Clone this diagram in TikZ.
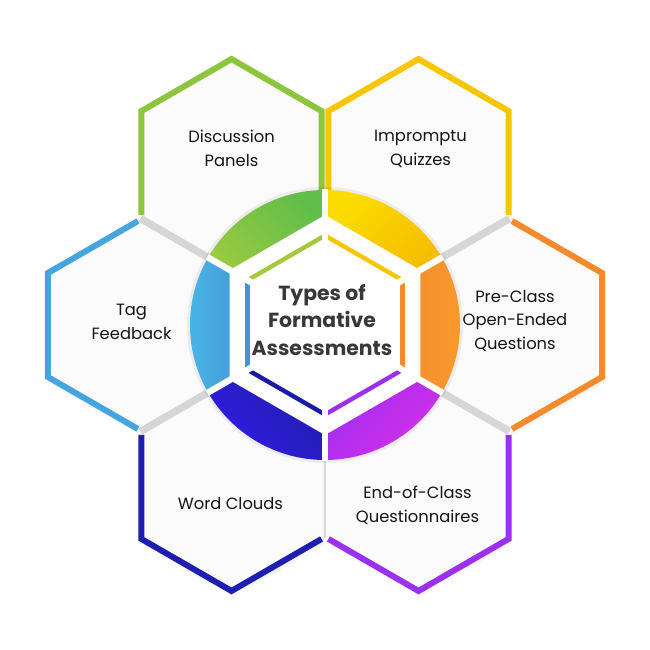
\documentclass[tikz,border=0pt]{standalone}
\usepackage{fontspec}
\setmainfont{Poppins}
\usetikzlibrary{positioning}

\definecolor{cgreen}{HTML}{8CC63F}
\definecolor{cyellow}{HTML}{F6C700}
\definecolor{corange}{HTML}{F58A2C}
\definecolor{cpurple}{HTML}{9B30F0}
\definecolor{cindigo}{HTML}{1E1EB0}
\definecolor{cblue}{HTML}{45A5DC}
\definecolor{cline}{HTML}{D6D6D6}

\tikzstyle{hexfill} = [fill=white!98.5!black]
\tikzstyle{hexshadow} = [fill=black, opacity=.03]
\tikzstyle{edge} = [line width=3.4pt, line join=miter]
\tikzstyle{seam} = [line width=4.2pt, cline]
\tikzstyle{thinseam} = [line width=0.8pt, cline]
\tikzstyle{inner} = [line width=2.5pt]
\tikzstyle{cut} = [line width=3.6pt, white]
\tikzstyle{lbl} = [align=center, text=black!92, font=\fontsize{9.3}{13.6}\selectfont]
\tikzstyle{title} = [align=center, text=black!78, font=\fontsize{11.6}{15.6}\selectfont\bfseries]

\begin{document}
\begin{tikzpicture}[x=0.02cm,y=0.02cm]
\useasboundingbox (-325,-325) rectangle (325,325);

% centres of the six outer hexagons
\foreach \ang/\name in {120/dp,60/iq,0/pc,300/ec,240/wc,180/tf}
  \coordinate (\name) at (\ang:187);

% hexagon bodies
\foreach \name in {dp,iq,pc,ec,wc,tf}{
  \fill[hexshadow,shift={(\name)}] (2,-4) ++(30:106) -- ++(150:106) -- ++(210:106) -- ++(270:106) -- ++(330:106) -- ++(30:106) -- cycle;
  \fill[hexfill,shift={(\name)}] (30:104) -- (90:104) -- (150:104) -- (210:104) -- (270:104) -- (330:104) -- cycle;
}

% grey seams between neighbours
\foreach \a in {30,150,210,330}
  \draw[seam] (\a:130) -- (\a:213);
\draw[thinseam] (270:130) -- (270:213);

% coloured borders
\draw[edge,cgreen,shift={(dp)}] (-30:104) -- (30:104) -- (90:104) -- (150:104) -- (210:104);
\draw[edge,cyellow,shift={(iq)}] (210:104) -- (150:104) -- (90:104) -- (30:104) -- (-30:104);
\draw[edge,corange,shift={(pc)}] (90:104) -- (30:104) -- (-30:104) -- (-90:104);
\draw[edge,cpurple,shift={(ec)}] (210:104) -- (270:104) -- (330:104) -- (390:104);
\draw[edge,cindigo,shift={(wc)}] (150:104) -- (210:104) -- (270:104) -- (330:104);
\draw[edge,cblue,shift={(tf)}] (90:104) -- (150:104) -- (210:104) -- (270:104);

% central ring
\fill[black,opacity=.06] (0,0) circle (138);
\shade[left color={rgb,255:red,170;green,205;blue,62}, right color={rgb,255:red,98;green,190;blue,74}, shading angle=135]
  (0,0) -- (90:135) arc (90:150:135) -- cycle;
\shade[left color={rgb,255:red,250;green,220;blue,0}, right color={rgb,255:red,245;green,178;blue,0}, shading angle=45]
  (0,0) -- (30:135) arc (30:90:135) -- cycle;
\shade[left color={rgb,255:red,245;green,126;blue,42}, right color={rgb,255:red,247;green,154;blue,44}, shading angle=90]
  (0,0) -- (-30:135) arc (-30:30:135) -- cycle;
\shade[left color={rgb,255:red,140;green,44;blue,242}, right color={rgb,255:red,212;green,48;blue,232}, shading angle=45]
  (0,0) -- (-90:135) arc (-90:-30:135) -- cycle;
\shade[left color={rgb,255:red,50;green,28;blue,226}, right color={rgb,255:red,26;green,30;blue,152}, shading angle=135]
  (0,0) -- (-150:135) arc (-150:-90:135) -- cycle;
\shade[left color={rgb,255:red,74;green,184;blue,232}, right color={rgb,255:red,58;green,106;blue,192}, shading angle=90]
  (0,0) -- (150:135) arc (150:210:135) -- cycle;

% inner hexagon
\fill[white] (30:110) -- (90:110) -- (150:110) -- (210:110) -- (270:110) -- (330:110) -- cycle;
\draw[inner,color={rgb,255:red,166;green,200;blue,60}] (90:89.5) -- (150:89.5);
\draw[inner,cyellow] (30:89.5) -- (90:89.5);
\draw[inner,corange] (-30:89.5) -- (30:89.5);
\draw[inner,cpurple] (-90:89.5) -- (-30:89.5);
\draw[inner,color={rgb,255:red,26;green,26;blue,168}] (-150:89.5) -- (-90:89.5);
\draw[inner,color={rgb,255:red,63;green,150;blue,214}] (150:89.5) -- (210:89.5);
\foreach \a in {30,90,...,330}
  \draw[cut] (0,0) -- (\a:136);

% texts
\node[title] (ctr) at (-3,5) {Types of\\Formative\\Assessments};
\node[lbl] (dpt) at ([shift={(0,14.5)}]dp) {Discussion\\Panels};
\node[lbl] (iqt) at ([shift={(2,14.5)}]iq) {Impromptu\\Quizzes};
\node[lbl] (pct) at ([shift={(3,4)}]pc) {Pre-Class\\Open-Ended\\Questions};
\node[lbl] (ect) at ([shift={(-1,-18)}]ec) {End-of-Class\\Questionnaires};
\node[lbl] (wct) at ([shift={(-1,-17)}]wc) {Word Clouds};
\node[lbl] (tft) at ([shift={(-6.5,3.5)}]tf) {Tag\\Feedback};
\end{tikzpicture}
\end{document}
